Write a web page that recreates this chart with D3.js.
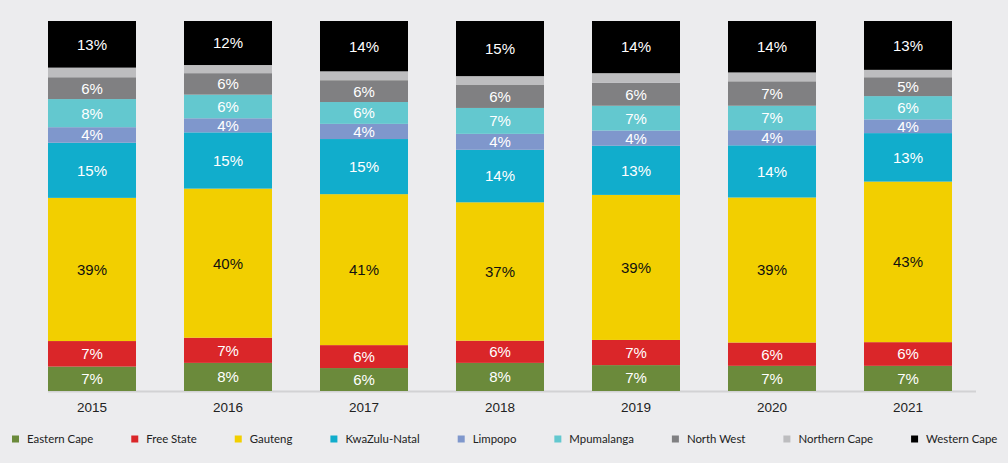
<!DOCTYPE html>
<html>
<head>
<meta charset="utf-8">
<script src="https://cdn.jsdelivr.net/npm/d3@7"></script>
<style>
  html, body { margin: 0; padding: 0; background: #ececee; }
  svg { display: block; }
</style>
</head>
<body>
<svg id="chart" width="1008" height="463"></svg>
<script>
const years = ["2015", "2016", "2017", "2018", "2019", "2020", "2021"];
const easternCape  = [6.6, 7.6, 6.2, 7.6, 7.0, 6.8, 6.8];
const freeState    = [6.9, 6.8, 6.2, 6.0, 6.8, 6.3, 6.4];
const gauteng      = [38.7, 40.3, 40.8, 37.4, 39.2, 39.2, 43.4];
const kwaZuluNatal = [14.9, 15.2, 14.9, 14.2, 13.3, 14.1, 13.1];
const limpopo      = [4.2, 3.8, 4.1, 4.3, 4.1, 4.1, 3.7];
const mpumalanga   = [7.6, 6.4, 5.9, 7.0, 6.7, 6.6, 6.3];
const northWest    = [5.9, 5.8, 5.9, 6.2, 6.2, 6.6, 5.1];
const northernCape = [2.6, 2.2, 2.4, 2.4, 2.6, 2.4, 2.0];
const westernCape  = [12.6, 11.9, 13.6, 14.9, 14.1, 13.9, 13.2];

const seriesNames = ["Eastern Cape", "Free State", "Gauteng", "KwaZulu-Natal", "Limpopo",
                     "Mpumalanga", "North West", "Northern Cape", "Western Cape"];
const seriesValues = [easternCape, freeState, gauteng, kwaZuluNatal, limpopo,
                      mpumalanga, northWest, northernCape, westernCape];
const colors = ["#6b8a3b", "#da2629", "#f2cf00", "#11adcc", "#7f97cc",
                "#63c8cf", "#808082", "#bdbdbf", "#000000"];
const labelColors = ["#ffffff", "#ffffff", "#111111", "#ffffff", "#ffffff",
                     "#ffffff", "#ffffff", "#ffffff", "#ffffff"];

const rows = years.map((y, i) => {
  const r = { year: y };
  seriesNames.forEach((s, j) => r[s] = seriesValues[j][i]);
  return r;
});

const svg = d3.select("#chart");

const x = d3.scaleBand().domain(years).range([24, 976])
  .paddingInner(48 / 136).paddingOuter(24 / 136);
const y = d3.scaleLinear().domain([0, 100]).range([391, 21]);
const color = d3.scaleOrdinal().domain(seriesNames).range(colors);
const labelColor = d3.scaleOrdinal().domain(seriesNames).range(labelColors);

const stacked = d3.stack().keys(seriesNames)(rows);

// baseline
svg.append("line")
  .attr("x1", x(years[0])).attr("x2", x(years[years.length - 1]) + x.bandwidth() + 24)
  .attr("y1", y(0) + 0.5).attr("y2", y(0) + 0.5)
  .attr("stroke", "#d2d2d4").attr("stroke-width", 2);

const layers = svg.append("g").selectAll("g").data(stacked).join("g")
  .attr("fill", d => color(d.key));

layers.selectAll("rect").data(d => d.map(v => ({ key: d.key, v }))).join("rect")
  .attr("x", d => x(d.v.data.year))
  .attr("width", x.bandwidth())
  .attr("y", d => y(d.v[1]))
  .attr("height", d => y(d.v[0]) - y(d.v[1]));

const fmt = v => Math.round(v) + "%";
const labels = svg.append("g").selectAll("g").data(stacked).join("g");
labels.selectAll("text")
  .data(d => d.filter(v => v[1] - v[0] >= 3).map(v => ({ key: d.key, v })))
  .join("text")
  .attr("x", d => x(d.v.data.year) + x.bandwidth() / 2)
  .attr("y", d => (y(d.v[0]) + y(d.v[1])) / 2)
  .attr("dy", "0.36em")
  .attr("text-anchor", "middle")
  .attr("font-family", "'Liberation Sans', Arial, sans-serif")
  .attr("font-size", 15)
  .attr("fill", d => labelColor(d.key))
  .text(d => fmt(d.v[1] - d.v[0]));

// x axis labels
const axis = svg.append("g").attr("transform", `translate(0,${y(0)})`)
  .call(d3.axisBottom(x).tickSize(0).tickPadding(11));
axis.select(".domain").remove();
axis.selectAll("text")
  .attr("font-family", "'Liberation Sans', Arial, sans-serif")
  .attr("font-size", 13.5)
  .attr("fill", "#222");

// legend
const legend = svg.append("g").attr("transform", "translate(12,439)");
let cx = 0;
seriesNames.forEach((s, i) => {
  const g = legend.append("g").attr("transform", `translate(${cx},0)`);
  g.append("rect").attr("x", 0).attr("y", -3.5).attr("width", 7).attr("height", 7)
    .attr("fill", color(s));
  const t = g.append("text").attr("x", 15).attr("dy", "0.35em")
    .attr("font-family", "Lato, 'Noto Sans', sans-serif")
    .attr("font-size", 11.4)
    .attr("fill", "#222")
    .text(s);
  cx += 15 + t.node().getComputedTextLength() + 38;
});
</script>
</body>
</html>
